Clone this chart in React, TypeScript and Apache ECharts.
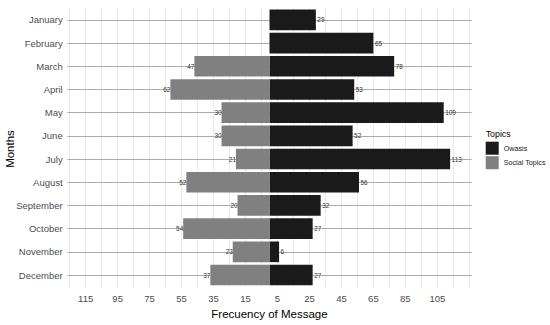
import React, { useEffect, useRef } from "react";
import * as echarts from "echarts";

const months = ["January", "February", "March", "April", "May", "June", "July", "August", "September", "October", "November", "December"];
const owasis = [29, 65, 78, 53, 109, 52, 113, 56, 32, 27, 6, 27];
const socialTopics = [null, null, 47, 62, 30, 30, 21, 52, 20, 54, 23, 37];
const xTickValues = [-115, -95, -75, -55, -35, -15, 5, 25, 45, 65, 85, 105];
const xGridValues = [-125, -115, -105, -95, -85, -75, -65, -55, -45, -35, -25, -15, -5, 5, 15, 25, 35, 45, 55, 65, 75, 85, 95, 105, 115, 125];

const FONT = "Liberation Sans, Arial, Helvetica, sans-serif";

export default function App() {
  const ref = useRef<HTMLDivElement>(null);
  useEffect(() => {
    if (!ref.current) return;
    const chart = echarts.init(ref.current, null, { renderer: "svg" });
    const option: any = {
      animation: false,
      backgroundColor: "#ffffff",
      textStyle: { fontFamily: FONT },
      grid: { left: 67.3, right: 78.3, top: 8.3, bottom: 35.8, containLabel: false },
      legend: {
        orient: "vertical",
        left: 485.7,
        top: 141.7,
        itemWidth: 13,
        itemHeight: 13,
        itemGap: 1.5,
        icon: "rect",
        data: ["Owasis", "Social Topics"],
        textStyle: { fontSize: 7.2, color: "#1a1a1a", fontFamily: FONT, padding: [0, 0, 0, 0] },
        padding: 0,
      },
      graphic: [
        {
          type: "text",
          x: 485.7,
          y: 133.5,
          style: { text: "Topics", fontSize: 8.8, fill: "#000000", fontFamily: FONT, align: "left", verticalAlign: "middle" },
        },
        {
          type: "text",
          x: 10,
          y: 149,
          rotation: Math.PI / 2,
          style: { text: "Months", fontSize: 11.5, fill: "#000000", fontFamily: FONT, align: "center", verticalAlign: "middle" },
        },
      ],
      xAxis: {
        type: "value",
        min: -126.5,
        max: 126.5,
        splitLine: { show: false },
        axisLine: { show: false },
        axisTick: { show: false },
        axisLabel: {
          customValues: xTickValues,
          formatter: (v: number) => String(Math.abs(v)),
          fontSize: 9.5,
          color: "#4d4d4d",
          margin: 6.5,
          fontFamily: FONT,
        },
        name: "Frecuency of Message",
        nameLocation: "middle",
        nameGap: 20,
        nameTextStyle: { fontSize: 11.5, color: "#000000", fontFamily: FONT },
      },
      yAxis: {
        type: "category",
        data: months,
        inverse: true,
        axisLine: { show: false },
        axisTick: { show: false },
        splitLine: { show: false },
        axisLabel: { fontSize: 9.5, color: "#4d4d4d", margin: 4.6, fontFamily: FONT },
      },
      series: [
        {
          name: "grid",
          type: "line",
          data: [],
          z: 1,
          silent: true,
          markLine: {
            silent: true,
            z: 1,
            symbol: ["none", "none"],
            label: { show: false },
            animation: false,
            lineStyle: { color: "#ebebeb", width: 1, type: "solid" },
            data: xGridValues.map((v) => ({ xAxis: v })),
          },
        },
        {
          name: "rows",
          type: "line",
          data: [],
          z: 1,
          silent: true,
          markLine: {
            silent: true,
            z: 1,
            symbol: ["none", "none"],
            label: { show: false },
            animation: false,
            lineStyle: { color: "#ababab", width: 1.2, type: "solid" },
            data: months.map((m) => ({ yAxis: m })),
          },
        },
        {
          name: "Owasis",
          type: "bar",
          data: owasis,
          barWidth: "89%",
          barGap: "-100%",
          z: 3,
          itemStyle: { color: "#1a1a1a" },
          label: {
            show: true,
            position: "right",
            distance: 1.5,
            fontSize: 6.4,
            color: "#333333",
            fontFamily: FONT,
          },
        },
        {
          name: "Social Topics",
          type: "bar",
          data: socialTopics.map((v) => (v == null ? null : -v)),
          barWidth: "89%",
          barGap: "-100%",
          z: 3,
          itemStyle: { color: "#808080" },
          label: {
            show: true,
            position: "left",
            distance: 0,
            fontSize: 6.4,
            color: "#333333",
            fontFamily: FONT,
            formatter: (p: any) => String(Math.abs(p.value)),
          },
        },
      ],
    };
    chart.setOption(option);
    return () => chart.dispose();
  }, []);
  return <div ref={ref} style={{ position: "fixed", left: 0, top: 0, width: 550, height: 325 }} />;
}
